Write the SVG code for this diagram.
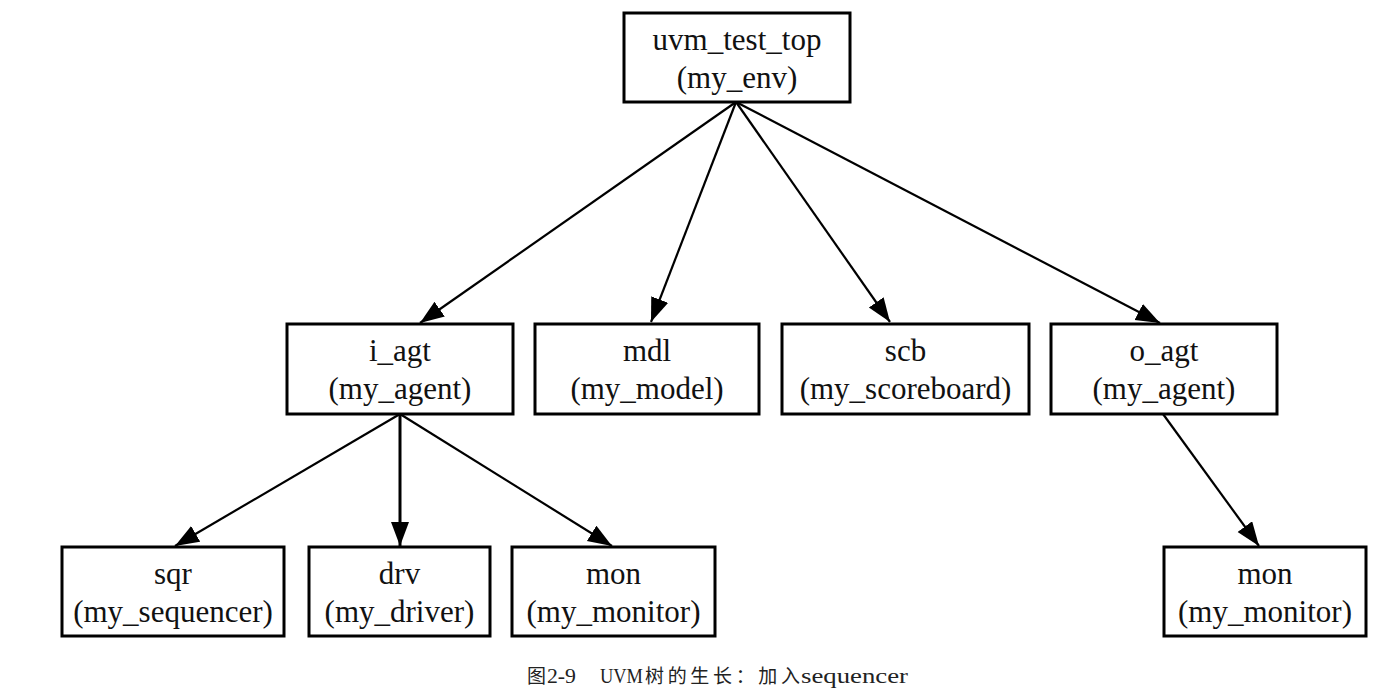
<svg xmlns="http://www.w3.org/2000/svg" width="1387" height="695" viewBox="0 0 1387 695">
<style>
.box{fill:#fff;stroke:#000;stroke-width:3}
.lbl{font-family:"Liberation Serif","Times New Roman",serif;font-size:31px;fill:#111;text-anchor:middle}
.edge{stroke:#000;stroke-width:2.2;fill:none}
.cap{font-family:"Liberation Serif","Noto Sans CJK SC",serif;font-size:20px;fill:#222}
.capc{font-family:"Noto Sans CJK SC",sans-serif;font-size:19px;fill:#222}
</style>
<defs>
<marker id="arr" markerUnits="userSpaceOnUse" markerWidth="26" markerHeight="20" refX="24" refY="9" orient="auto">
<path d="M0,0 L24,9 L0,18 Z" fill="#000"/>
</marker>
</defs>
<rect width="1387" height="695" fill="#fff"/>
<g id="connectors">
<line class="edge" x1="736" y1="102" x2="420" y2="323" marker-end="url(#arr)"/>
<line class="edge" x1="736" y1="102" x2="651" y2="322" marker-end="url(#arr)"/>
<line class="edge" x1="736" y1="102" x2="890" y2="322" marker-end="url(#arr)"/>
<line class="edge" x1="736" y1="102" x2="1160" y2="323" marker-end="url(#arr)"/>
<line class="edge" x1="400" y1="414" x2="175" y2="546" marker-end="url(#arr)"/>
<line class="edge" x1="400" y1="414" x2="400" y2="546" marker-end="url(#arr)" style="stroke-width:3"/>
<line class="edge" x1="400" y1="414" x2="612" y2="546" marker-end="url(#arr)"/>
<line class="edge" x1="1163" y1="414" x2="1259" y2="546" marker-end="url(#arr)"/>
</g>
<g id="uvm_test_top"><rect class="box" x="624" y="13" width="226" height="89"/><text class="lbl" x="737" y="50">uvm_test_top</text><text class="lbl" x="737" y="88">(my_env)</text></g>
<g id="i_agt"><rect class="box" x="287" y="324" width="226" height="90"/><text class="lbl" x="400" y="361">i_agt</text><text class="lbl" x="400" y="399">(my_agent)</text></g>
<g id="mdl"><rect class="box" x="535" y="324" width="224" height="90"/><text class="lbl" x="647" y="361">mdl</text><text class="lbl" x="647" y="399">(my_model)</text></g>
<g id="scb"><rect class="box" x="782" y="324" width="247" height="90"/><text class="lbl" x="905.500" y="361">scb</text><text class="lbl" x="905.500" y="399">(my_scoreboard)</text></g>
<g id="o_agt"><rect class="box" x="1051" y="324" width="226" height="90"/><text class="lbl" x="1164" y="361">o_agt</text><text class="lbl" x="1164" y="399">(my_agent)</text></g>
<g id="sqr"><rect class="box" x="62" y="547" width="222" height="89"/><text class="lbl" x="173" y="584">sqr</text><text class="lbl" x="173" y="622">(my_sequencer)</text></g>
<g id="drv"><rect class="box" x="309" y="547" width="181" height="89"/><text class="lbl" x="399.500" y="584">drv</text><text class="lbl" x="399.500" y="622">(my_driver)</text></g>
<g id="i_mon"><rect class="box" x="512" y="547" width="203" height="89"/><text class="lbl" x="613.500" y="584">mon</text><text class="lbl" x="613.500" y="622">(my_monitor)</text></g>
<g id="o_mon"><rect class="box" x="1164" y="547" width="202" height="89"/><text class="lbl" x="1265" y="584">mon</text><text class="lbl" x="1265" y="622">(my_monitor)</text></g>
<g id="caption">
<text class="capc" x="527" y="683">图</text>
<text class="cap" x="547" y="683" textLength="29" lengthAdjust="spacingAndGlyphs">2-9</text>
<text class="cap" x="600" y="683" textLength="43" lengthAdjust="spacingAndGlyphs">UVM</text>
<text class="capc" x="645" y="683" textLength="155" lengthAdjust="spacing">树的生长：加入</text>
<text class="cap" x="801" y="683" textLength="107" lengthAdjust="spacingAndGlyphs">sequencer</text>
</g>
</svg>
